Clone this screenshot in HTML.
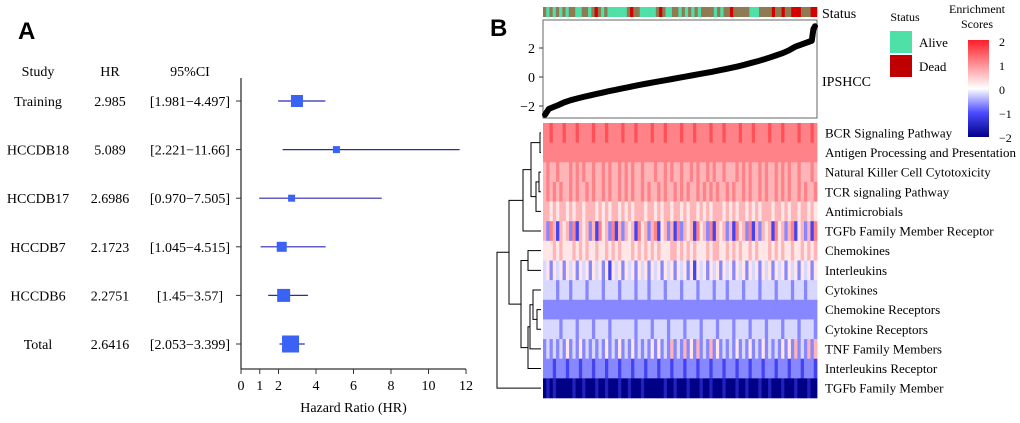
<!DOCTYPE html>
<html><head><meta charset="utf-8"><style>
body{margin:0;background:#fff;}
svg text{font-family:"Liberation Serif",serif;}
</style></head><body>
<svg id="fig" width="1020" height="418" viewBox="0 0 1020 418" xmlns="http://www.w3.org/2000/svg">
<text x="18" y="39" font-weight="bold" font-size="24" style="font-family:'Liberation Sans',sans-serif">A</text>
<text x="490" y="36" font-weight="bold" font-size="24" style="font-family:'Liberation Sans',sans-serif">B</text>
<g id="forest"></g>
<g id="heat"></g>
</svg>
<script>
// ---------- Forest plot data ----------
const studies=["Training","HCCDB18","HCCDB17","HCCDB7","HCCDB6","Total"];
const hrLabels=["2.985","5.089","2.6986","2.1723","2.2751","2.6416"];
const ciLabels=["[1.981\u22124.497]","[2.221\u221211.66]","[0.970\u22127.505]","[1.045\u22124.515]","[1.45\u22123.57]","[2.053\u22123.399]"];
const hr=[2.985,5.089,2.6986,2.1723,2.2751,2.6416];
const lo=[1.981,2.221,0.970,1.045,1.45,2.053];
const hi=[4.497,11.66,7.505,4.515,3.57,3.399];
const boxSize=[12,7,7,10,13,17];
const xTicks=[0,1,2,4,6,8,10,12];

// ---------- Heatmap data ----------
const pathways=["BCR Signaling Pathway","Antigen Processing and Presentation","Natural Killer Cell Cytotoxicity","TCR signaling Pathway","Antimicrobials","TGFb Family Member Receptor","Chemokines","Interleukins","Cytokines","Chemokine Receptors","Cytokine Receptors","TNF Family Members","Interleukins Receptor","TGFb Family Member"];
// each char 0..9 -> score -2..2
const heatRows=[
"778777877787777877787777877787777877787777877787777877787777877787777877787777877787",
"777777777777777777777777777777777777777777777777777777777777777777777777777777777777",
"676676667676766766767667676766766676676766766767667676676667676766767667676766766676",
"676767667676676766767667676766767667676676767667676767667676676766767667676766767667",
"665656656566566656565665656566656656566566565665656566656565665656566656656566566565",
"637626563726563627563726365627563672563627365627563726563627563726365627563672563627",
"555656555656565565565656555656565656555665656565556566556565655656555656565565565656",
"453545354535453545352545354535453545354535453525453545354535453545354535453545354535",
"444434443444434444344443444434443444434444344443444434443444434444344443444434443444",
"333333333333333333333333333333333333333333333333333333333333333333333333333333333333",
"444443444434444344443444444434444344443444434444344443444434444344443444434444344443",
"343434353435343434353435343534343535343634363536343635343435343534353434353536343636",
"333233323332333233323332333233323332333233323332333233323332333233323332333233323332",
"010100000100100010010001001000100000010010001000100100010001001000100100010001000100"];
const statusStr="mamamamammaammamdmamaaaaaamdmmaaaaamdmaammamamamammmmamammdmmmmmaaammmmdmmdmmdddmmmdd";
// sorted IPSHCC scores (quantiles along x)
const ipsScore=[-2.6,-2.2,-1.95,-1.75,-1.6,-1.48,-1.37,-1.27,-1.17,-1.07,-0.97,-0.88,-0.79,-0.70,-0.61,-0.52,-0.44,-0.36,-0.28,-0.20,-0.12,-0.04,0.04,0.12,0.20,0.28,0.36,0.45,0.54,0.63,0.73,0.84,0.96,1.08,1.21,1.35,1.5,1.65,1.85,2.1,2.5,3.3,3.5];
const yTicks=[-2,0,2];
const legendTicks=[2,1,0,-1,-2];

const NS="http://www.w3.org/2000/svg";
function mk(tag,attrs,parent,txt){const e=document.createElementNS(NS,tag);for(const k in attrs)e.setAttribute(k,attrs[k]);if(txt!==undefined)e.textContent=txt;parent.appendChild(e);return e;}

// ---------- Forest ----------
const F=document.getElementById('forest');
const fx=v=>241+v*18.75;
const fy=i=>101+i*48.6;
[["Study",38],["HR",110],["95%CI",190]].forEach(h=>{const t=mk('text',{x:h[1],y:76,'text-anchor':'middle','font-size':14},F,h[0]);});
const ax=mk('line',{x1:241,y1:78,x2:241,y2:369,stroke:'#333','stroke-width':1.3},F);
const xa=mk('line',{x1:241,y1:369,x2:fx(12),y2:369,stroke:'#333','stroke-width':1.3},F);
xTicks.forEach(v=>{const l=mk('line',{x1:fx(v),y1:369,x2:fx(v),y2:374,stroke:'#333'},F);
const t=mk('text',{x:fx(v),y:390,'text-anchor':'middle','font-size':14},F,String(v));});
const xt=mk('text',{x:fx(6),y:412,'text-anchor':'middle','font-size':14},F,"Hazard Ratio (HR)");
studies.forEach((s,i)=>{const y=fy(i);
let t=mk('text',{x:38,y:y+5,'text-anchor':'middle','font-size':14},F,s);
t=mk('text',{x:110,y:y+5,'text-anchor':'middle','font-size':14},F,hrLabels[i]);
t=mk('text',{x:190,y:y+5,'text-anchor':'middle','font-size':14},F,ciLabels[i]);
let l=mk('line',{x1:236,y1:y,x2:241,y2:y,stroke:'#333'},F);
l=mk('line',{x1:fx(lo[i]),y1:y,x2:fx(hi[i]),y2:y,stroke:'#2a2ab0','stroke-width':1.2},F);
const b=boxSize[i];const r=mk('rect',{x:fx(hr[i])-b/2,y:y-b/2,width:b,height:b,fill:'#3a62f5'},F);});

// ---------- Heatmap panel ----------
const H=document.getElementById('heat');
const X0=543,X1=817,HY0=123,HY1=398;
const rowH=(HY1-HY0)/pathways.length;
function col(v){v=Math.max(-2,Math.min(2,v));let r,g,b;
 if(v>=0){const t=v/2;r=255;g=Math.round(255-t*225);b=Math.round(255-t*215);}
 else{const t=-v/2; if(t<0.5){const u=t/0.5;r=Math.round(255-u*180);g=Math.round(255-u*180);b=255;}else{const u=(t-0.5)/0.5;r=Math.round(75-u*75);g=Math.round(75-u*75);b=Math.round(255-u*120);}}
 return `rgb(${r},${g},${b})`;}
heatRows.forEach((row,i)=>{const n=row.length,w=(X1-X0)/n;
 for(let j=0;j<n;j++){const v=(parseInt(row[j])-4.5)/2.25;
  const c=mk('rect',{x:X0+j*w,y:HY0+i*rowH,width:w+0.4,height:rowH+0.3,fill:col(v)},H);
  }
 const t=mk('text',{x:825,y:HY0+(i+0.5)*rowH+4.5,'font-size':13},H,pathways[i]);});
// status bar
{const n=statusStr.length,w=(X1-X0)/n;const cm={a:'#4fe0a8',d:'#d40000',m:'#8f7a52'};
 for(let j=0;j<n;j++){const r=mk('rect',{x:X0+j*w,y:7,width:w+0.3,height:10,fill:cm[statusStr[j]]},H);}
 const t=mk('text',{x:822,y:18,'font-size':14},H,"Status");}
// scatter
const sy=v=>77-v*14.5;
const box=mk('rect',{x:X0,y:20,width:X1-X0,height:98,fill:'none',stroke:'#666'},H);
yTicks.forEach(v=>{let l=mk('line',{x1:X0-4,y1:sy(v),x2:X0,y2:sy(v),stroke:'#333'},H);
 const t=mk('text',{x:X0-8,y:sy(v)+5,'text-anchor':'end','font-size':14},H,v<0?"\u2212"+(-v):String(v));});
{const n=ipsScore.length;const px=i=>{const f=i/(n-1);return X0+2+(X1-X0-4)*(i<2?f*0.6:i>n-4?1-(n-1-i)*0.006:f);};
 const pl=mk('polyline',{points:ipsScore.map((v,i)=>px(i)+','+sy(v)).join(' '),fill:'none',stroke:'#000','stroke-width':6,'stroke-linejoin':'round','stroke-linecap':'round'},H);}
let t=mk('text',{x:822,y:86,'font-size':14},H,"IPSHCC");
// dendrogram
const ly=i=>HY0+(i+0.5)*rowH;
function leaf(i){return{y:ly(i),x:X0-2};}
function join(a,b,x){const g=mk('path',{d:`M${a.x},${a.y}H${x}V${b.y}H${b.x}`,fill:'none',stroke:'#000','stroke-width':1},H);return{x:x,y:(a.y+b.y)/2};}
const n01=join(leaf(0),leaf(1),540);
const n23=join(leaf(2),leaf(3),539);
const n234=join(n23,leaf(4),536);
const nA=join(n01,n234,531);
const nA5=join(nA,leaf(5),523);
const n67=join(leaf(6),leaf(7),528);
const n910=join(leaf(9),leaf(10),537);
const n8=join(leaf(8),n910,533);
const n11=join(n8,leaf(11),530);
const n12=join(n11,leaf(12),528);
const nB=join(n67,n12,521);
const nTop=join(nA5,nB,509);
join(nTop,leaf(13),497);
// legends
t=mk('text',{x:905,y:21,'text-anchor':'middle','font-size':12},H,"Status");
[["Alive","#4fe0a8",31],["Dead","#c00000",55]].forEach(d=>{const r=mk('rect',{x:890,y:d[2],width:22,height:22,fill:d[1]},H);
 const tt=mk('text',{x:919,y:d[2]+16,'font-size':13},H,d[0]);});
t=mk('text',{x:977,y:13,'text-anchor':'middle','font-size':12},H,"Enrichment");
t=mk('text',{x:977,y:28,'text-anchor':'middle','font-size':12},H,"Scores");
const defs=mk('defs',{},H);const lg=mk('linearGradient',{id:'cb',x1:0,y1:0,x2:0,y2:1},defs);
[2,1,0,-1,-2].forEach((v,i)=>mk('stop',{offset:(i/4),'stop-color':col(v)},lg));
const cb=mk('rect',{x:968,y:40,width:21,height:97,fill:'url(#cb)'},H);
legendTicks.forEach((v,i)=>{const y=41+i*24;const tt=mk('text',{x:999,y:y+5,'font-size':12},H,v<0?"\u2212"+(-v):String(v));});
</script>
</body></html>
